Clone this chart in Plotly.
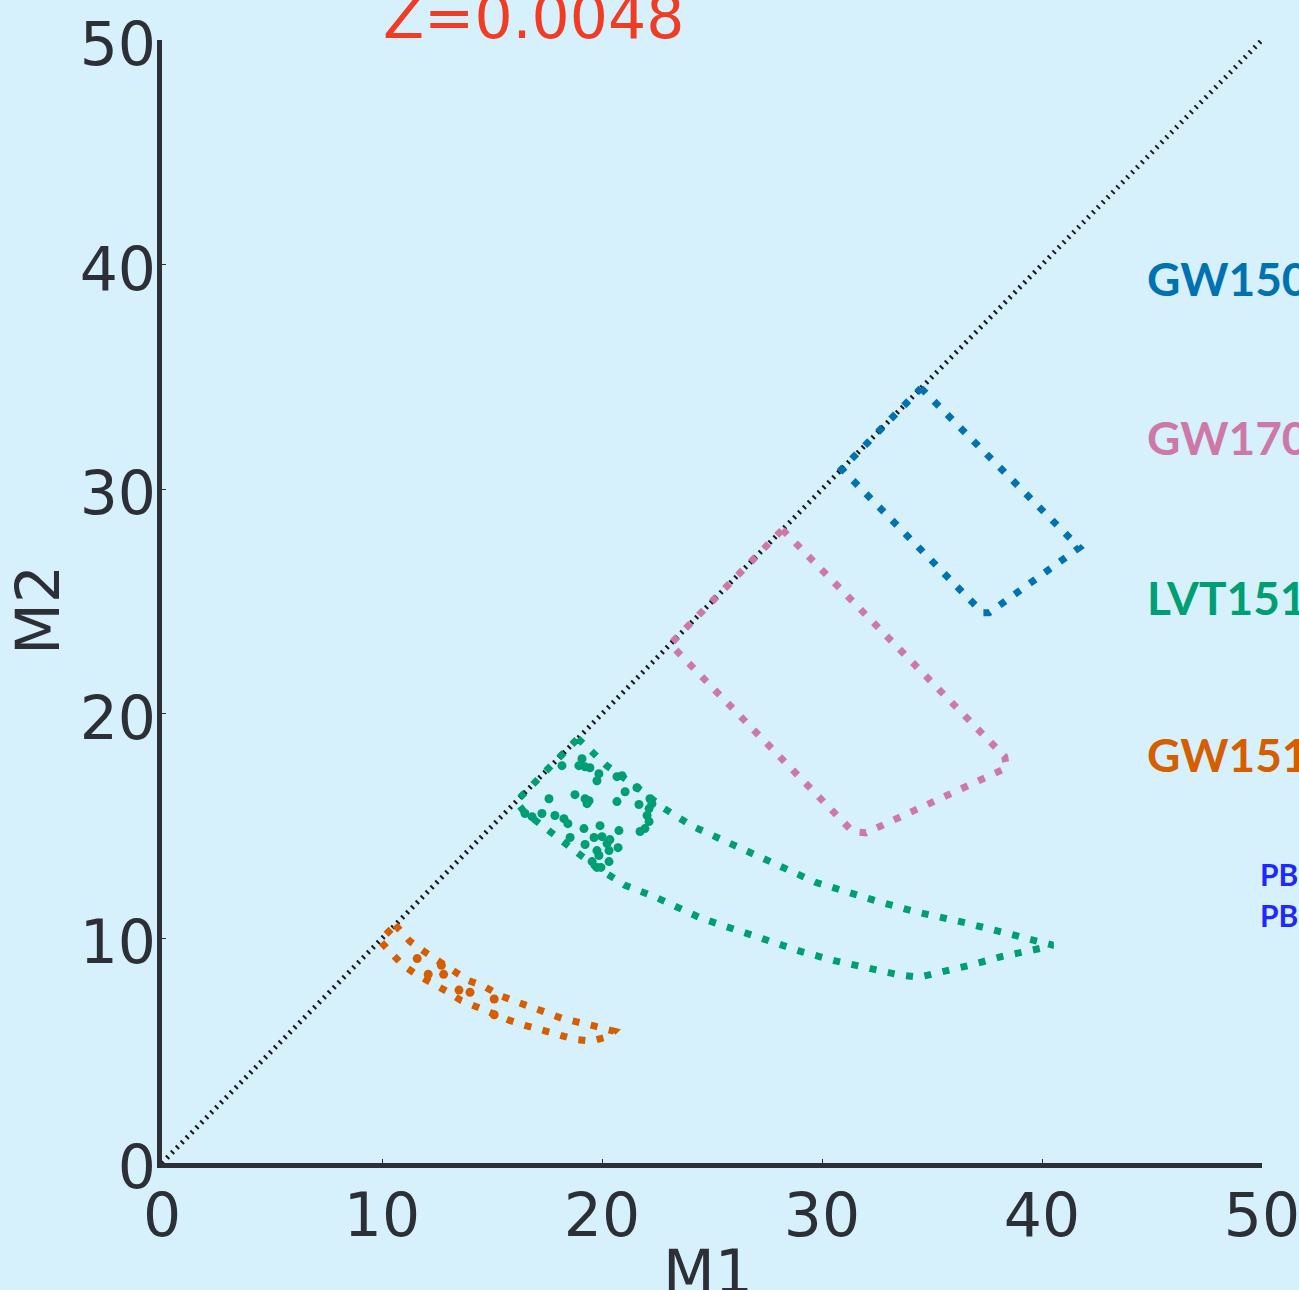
import plotly.graph_objects as go

# ---------------- data ----------------
diag_x = [0, 50]
diag_y = [0, 50]

gw150914_m1 = [34.5, 41.7, 37.6, 37.3, 30.9, 34.5]
gw150914_m2 = [34.5, 27.4, 24.5, 24.5, 30.9, 34.5]

gw170104_m1 = [28.2, 38.3, 38.4, 32.0, 31.4, 23.1, 28.2]
gw170104_m2 = [28.2, 18.1, 17.6, 14.7, 14.75, 23.1, 28.2]

lvt151012_m1 = [18.9, 20.2, 21.5, 22.8, 24.1, 27.3, 29.7, 32.7, 34.2, 36.5, 38.8, 40.0, 40.5,
                39.9, 38.2, 36.7, 35.1, 34.4, 33.6, 32.1, 30.6, 29.1, 27.3, 24.5, 22.4, 21.05,
                19.7, 18.5, 17.2, 16.45, 16.1, 18.9]
lvt151012_m2 = [18.9, 17.7, 16.8, 15.8, 15.0, 13.6, 12.5, 11.6, 11.2, 10.7, 10.1, 9.8, 9.7,
                9.55, 9.2, 8.8, 8.45, 8.27, 8.36, 8.67, 9.0, 9.4, 10.0, 10.9, 11.85, 12.36,
                13.2, 14.1, 15.0, 15.65, 16.1, 18.9]

lvt_scatter_m1 = [18.18, 19.09, 18.95, 19.23, 19.45, 19.86, 19.77, 20.68, 20.91, 21.05, 21.59,
                  22.18, 22.27, 22.14, 22.05, 22.14, 21.95, 21.73, 21.68, 20.68, 18.77, 19.23,
                  19.41, 19.32, 17.59, 16.5, 16.82, 17.27, 17.86, 18.27, 18.45, 19.18, 19.91,
                  20.77, 18.55, 19.64, 20.0, 20.36, 20.23, 19.23, 19.77, 19.86, 20.32, 20.73,
                  19.55, 19.77, 19.95, 20.32]
lvt_scatter_m2 = [17.69, 18.0, 17.69, 17.64, 17.6, 17.33, 17.02, 17.2, 17.24, 16.53, 16.71,
                  16.22, 16.0, 15.78, 15.47, 15.2, 14.89, 14.76, 15.96, 16.09, 16.4, 16.22,
                  16.13, 16.0, 16.22, 15.56, 15.42, 15.56, 15.47, 15.33, 15.11, 14.89, 15.02,
                  14.8, 14.49, 14.49, 14.53, 14.4, 14.22, 14.18, 13.91, 13.69, 13.91, 14.04,
                  13.42, 13.16, 13.16, 13.42]

gw151226_m1 = [10.6, 11.27, 11.91, 12.55, 13.23, 13.91, 14.64, 15.32, 16.05, 16.77, 17.45,
               18.18, 18.95, 19.68, 20.55, 20.32, 19.5, 18.73, 17.95, 17.23, 16.5, 15.77,
               15.09, 14.32, 13.59, 12.95, 12.23, 11.55, 10.91, 10.32, 9.9, 10.6]
gw151226_m2 = [10.6, 9.87, 9.42, 8.98, 8.53, 8.13, 7.87, 7.47, 7.2, 6.98, 6.71,
               6.44, 6.22, 6.09, 5.87, 5.64, 5.42, 5.51, 5.73, 5.91, 6.13, 6.36,
               6.62, 6.93, 7.24, 7.64, 8.0, 8.4, 8.84, 9.42, 9.9, 10.6]

gw151226_scatter_m1 = [11.6, 12.1, 12.7, 12.8, 13.5, 14.0, 15.1, 15.1]
gw151226_scatter_m2 = [9.1, 8.4, 8.8, 8.4, 7.7, 7.6, 7.3, 6.6]

labels = ["GW150914", "GW170104", "LVT151012", "GW151226"]
label_colors = ["#0072B2", "#CC79A7", "#009E73", "#D55E00"]
label_y = [39.4, 32.3, 25.2, 18.2]
label_x = 44.7

pb_labels = ["PBH", "PBH"]
pb_y = [12.85, 11.05]
pb_x = 49.8

title_text = "Z=0.0048"
x_title = "M1"
y_title = "M2"
tick_vals = [0, 10, 20, 30, 40, 50]

# ---------------- styles ----------------
BG = "#D6F0FC"
AX = "#2C2F36"
DASH = "7px,11.6px"
LW = 7

fig = go.Figure()

fig.add_trace(go.Scatter(x=diag_x, y=diag_y, mode="lines",
                         line=dict(color="#1A1A1A", width=5, dash="2px,5px"),
                         hoverinfo="skip", showlegend=False))

polys = [
    (gw150914_m1, gw150914_m2, label_colors[0]),
    (gw170104_m1, gw170104_m2, label_colors[1]),
    (lvt151012_m1, lvt151012_m2, label_colors[2]),
    (gw151226_m1, gw151226_m2, label_colors[3]),
]
for xs, ys, c in polys:
    fig.add_trace(go.Scatter(x=xs, y=ys, mode="lines",
                             line=dict(color=c, width=LW, dash=DASH),
                             hoverinfo="skip", showlegend=False))

fig.add_trace(go.Scatter(x=lvt_scatter_m1, y=lvt_scatter_m2, mode="markers",
                         marker=dict(color=label_colors[2], size=9, line=dict(width=0)),
                         hoverinfo="skip", showlegend=False))
fig.add_trace(go.Scatter(x=gw151226_scatter_m1, y=gw151226_scatter_m2, mode="markers",
                         marker=dict(color=label_colors[3], size=9, line=dict(width=0)),
                         hoverinfo="skip", showlegend=False))

annotations = []
for t, c, y in zip(labels, label_colors, label_y):
    annotations.append(dict(x=label_x, y=y, xref="x", yref="y", text=t, showarrow=False,
                            xanchor="left", yanchor="middle",
                            font=dict(family="Lato", size=46, color=c, weight=700)))
for t, y in zip(pb_labels, pb_y):
    annotations.append(dict(x=pb_x, y=y, xref="x", yref="y", text=t, showarrow=False,
                            xanchor="left", yanchor="middle",
                            font=dict(family="Lato", size=30, color="#1E28FF", weight=700)))
annotations.append(dict(x=0.338, y=1.0205, xref="paper", yref="paper", text=title_text,
                        showarrow=False, xanchor="center", yanchor="middle",
                        font=dict(family="DejaVu Sans", size=60, color="#F03C24")))
annotations.append(dict(x=0.496, y=-0.097, xref="paper", yref="paper", text=x_title,
                        showarrow=False, xanchor="center", yanchor="middle",
                        font=dict(family="DejaVu Sans", size=60, color=AX)))
annotations.append(dict(x=-0.1127, y=0.4924, xref="paper", yref="paper", text=y_title,
                        showarrow=False, xanchor="center", yanchor="middle", textangle=-90,
                        font=dict(family="DejaVu Sans", size=60, color=AX)))

axis_common = dict(range=[0, 50], tickvals=tick_vals, ticks="inside", ticklen=4, tickwidth=1,
                   tickcolor=AX, showline=True, linewidth=5, linecolor=AX, showgrid=False,
                   zeroline=False, automargin=False, ticklabeloverflow="allow",
                   tickfont=dict(family="DejaVu Sans", size=60, color=AX))

fig.update_layout(
    width=1299, height=1290,
    margin=dict(l=162, r=37, t=40, b=127),
    paper_bgcolor=BG, plot_bgcolor=BG,
    font=dict(family="DejaVu Sans", color=AX),
    xaxis=dict(**axis_common, ticklabelstandoff=-4),
    yaxis=dict(**axis_common, ticklabelstandoff=-11, ticklabelshift=4),
    annotations=annotations,
    hovermode=False,
    showlegend=False,
)

fig.write_html("out.html")
